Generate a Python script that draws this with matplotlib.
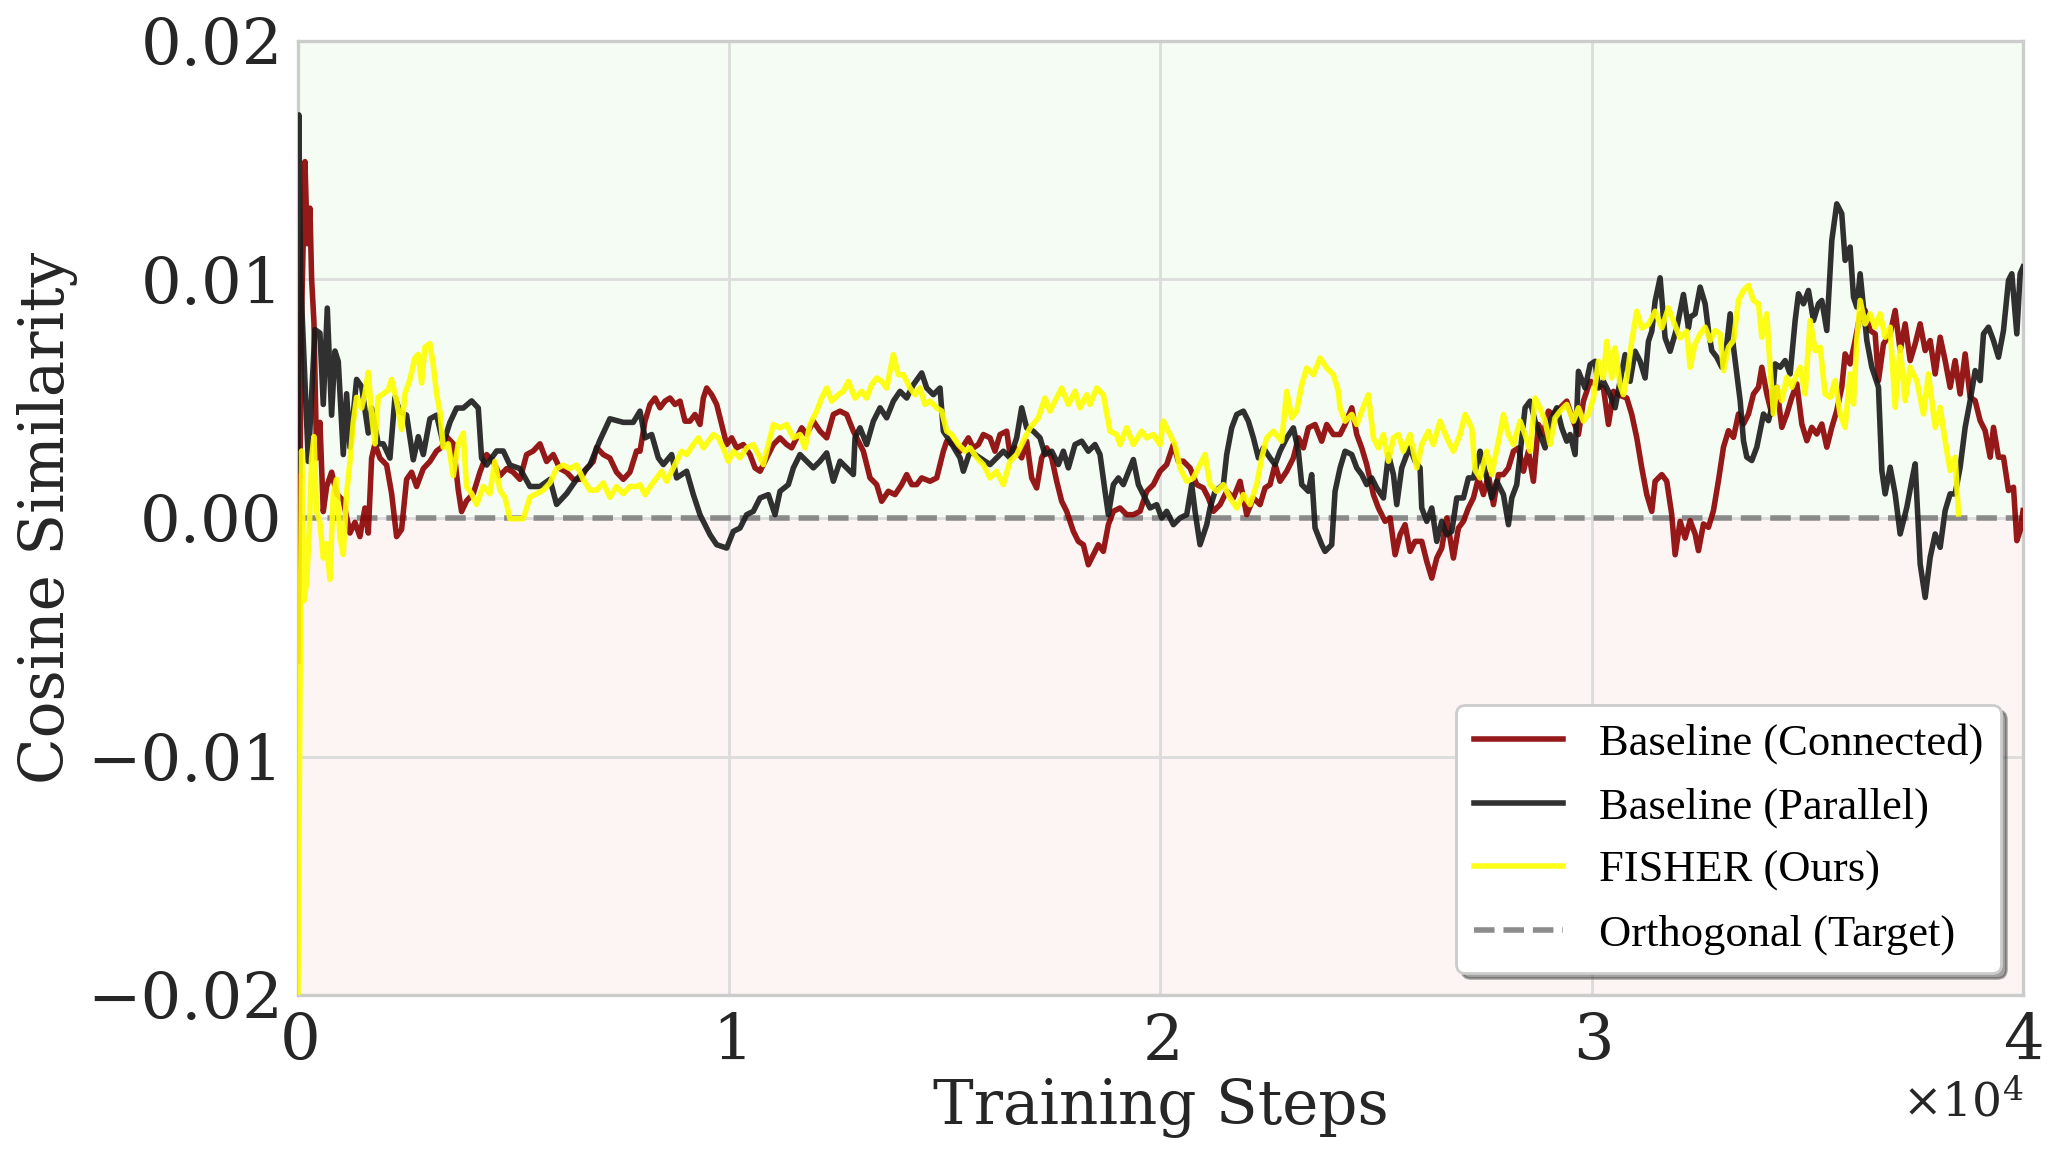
import matplotlib
matplotlib.use("Agg")
import matplotlib.pyplot as plt
import numpy as np
from matplotlib.ticker import FuncFormatter, MultipleLocator

plt.rcParams['font.family'] = ['DejaVu Serif']
plt.rcParams['mathtext.fontset'] = 'dejavuserif'

# values, cosine similarity in units of 1e-3
connected_steps = [
    0, 85, 162, 216, 278, 317, 371, 433, 510, 587, 665, 781, 896, 1051, 1206, 1321, 1437, 1553, 1631, 1708,
    1785, 1901, 2056, 2172, 2287, 2403, 2519, 2635, 2751, 2906, 3060, 3215, 3331, 3447, 3601, 3717, 3794, 3910, 4065, 4219,
    4374, 4529, 4683, 4838, 4992, 5147, 5301, 5456, 5611, 5765, 5920, 6074, 6229, 6383, 6538, 6692, 6847, 6924, 7079, 7233,
    7388, 7543, 7697, 7852,
    7931, 8047, 8163, 8279, 8395, 8511, 8627, 8743, 8859, 8975, 9091, 9206, 9322, 9400, 9477, 9593, 9709, 9825, 9941, 10057,
    10173, 10327, 10482, 10598, 10714, 10868, 11023, 11178, 11332, 11448, 11564, 11680, 11796, 11951, 12105, 12260, 12414, 12569, 12724, 12878,
    12994, 13110, 13265, 13419, 13535, 13690, 13844, 13999, 14115, 14231, 14347, 14463, 14656, 14811, 14965, 15043, 15197, 15352, 15545, 15661,
    15777, 15893,
    16047, 16163, 16279, 16434, 16511, 16627, 16781, 16897, 17013, 17129, 17245, 17361, 17477, 17593, 17709, 17825, 17980, 18095, 18211, 18327,
    18443, 18559, 18675, 18791, 18907, 19062, 19216, 19371, 19526, 19680, 19835, 19989, 20144, 20299, 20414, 20530, 20685, 20840, 20994, 21110,
    21226, 21381, 21535, 21690, 21845, 21999, 22154, 22308, 22424, 22540, 22656, 22772, 22927, 23081, 23197, 23313, 23429, 23584, 23738, 23854,
    24009,
    24164, 24280, 24435, 24551, 24666, 24782, 24937, 25053, 25208, 25324, 25440, 25555, 25671, 25787, 25903, 26058, 26174, 26290, 26406, 26522,
    26638, 26792, 26908, 27024, 27140, 27256, 27372, 27488, 27604, 27720, 27836, 27952, 28068, 28184, 28300, 28416, 28531, 28647, 28763, 28879,
    28995, 29111, 29266, 29420, 29575, 29691, 29807, 29962, 30116, 30271, 30387, 30503, 30619, 30812, 30928, 31044, 31160, 31276, 31392, 31469,
    31624, 31739, 31855, 31933, 32049, 32165,
    32281, 32397, 32474, 32590, 32706, 32822, 32938, 33054, 33170, 33286, 33402, 33518, 33634, 33750, 33866, 33943, 34059, 34175, 34291, 34407,
    34523, 34639, 34755, 34871, 34987, 35102, 35218, 35334, 35450, 35566, 35681, 35797, 35875, 35991, 36107, 36223, 36339, 36455, 36571, 36648,
    36764, 36919, 37035, 37151, 37267, 37383, 37499, 37615, 37731, 37847, 37963, 38079, 38194, 38310, 38426, 38542, 38658, 38774, 38890, 39006,
    39122, 39238, 39315, 39431, 39547, 39663, 39779, 39856, 39933, 40000,
]
connected_vals = [
    -6.0, 8.50, 14.94, 11.50, 12.99, 10.0, 8.20, 2.51, 4.01, 0.27, 1.32, 1.92, 1.02, 0.72, -0.63, -0.18, -0.78, 0.42, -0.63, 2.51,
    3.11, 2.51, 2.22, 1.02, -0.78, -0.48, 1.62, 1.92, 1.32, 2.07, 2.37, 2.81, 2.96, 3.41, 3.11, 1.17, 0.27, 0.72, 1.02, 1.92,
    2.66, 2.37, 1.77, 2.07, 1.92, 1.62, 2.66, 2.81, 3.11, 2.37, 2.66, 2.07, 1.92, 1.62, 1.62, 2.07, 2.37, 2.96, 2.66, 2.51,
    1.92, 1.62, 1.92, 2.81,
    2.80, 4.06, 4.76, 5.03, 4.62, 4.90, 5.03, 4.76, 4.90, 4.06, 4.06, 4.34, 3.92, 5.03, 5.45, 5.17, 4.76, 3.92, 3.08, 3.36,
    2.94, 3.08, 2.66, 2.10, 1.96, 2.52, 3.08, 3.36, 3.08, 2.94, 3.36, 3.78, 3.50, 4.06, 3.64, 3.36, 4.34, 4.48, 4.34, 3.64,
    3.22, 2.80, 1.68, 1.40, 0.70, 1.12, 0.98, 1.40, 1.82, 1.40, 1.40, 1.68, 1.54, 1.68, 2.80, 3.22, 3.08, 2.80, 3.36, 2.94,
    3.08, 3.50,
    3.36, 2.80, 3.50, 3.64, 2.66, 2.94, 2.52, 3.22, 1.68, 1.26, 2.52, 2.94, 2.52, 1.54, 0.70, 0.28, -0.56, -0.98, -1.12, -1.96,
    -1.54, -1.12, -1.40, -0.28, 0.28, 0.42, 0.14, 0.14, 0.28, 1.12, 1.40, 1.96, 2.24, 3.08, 2.38, 2.38, 2.10, 1.40, 1.26, 0.84,
    0.28, 0.56, 1.12, 0.84, 1.54, 0.14, 0.84, 0.56, 1.26, 1.40, 2.24, 1.54, 1.96, 2.52, 3.36, 2.94, 3.78, 3.92, 3.22, 3.92,
    3.50,
    3.50, 3.92, 4.62, 3.50, 2.94, 2.24, 0.98, 0.42, -0.14, 0.00, -1.54, -0.70, -0.28, -1.40, -0.98, -0.98, -1.82, -2.52, -1.68, -1.26,
    0.00, -1.68, -0.42, -0.14, 0.42, 0.84, 1.68, 0.98, 1.82, 0.56, 1.82, 1.82, 2.10, 2.80, 2.94, 1.96, 2.80, 1.54, 3.92, 3.50,
    4.48, 4.34, 4.62, 4.90, 4.06, 3.50, 4.90, 5.73, 5.59, 5.45, 3.92, 5.31, 5.17, 5.03, 4.34, 3.36, 2.10, 0.98, 0.28, 1.54,
    1.82, 1.54, 0.14, -1.54, -0.14, -0.84,
    -0.11, -0.67, -1.37, -0.25, -0.39, 0.31, 1.57, 2.97, 3.66, 3.38, 4.36, 3.94, 4.36, 5.20, 5.48, 6.32, 5.20, 4.36, 5.48, 3.80,
    4.36, 5.06, 5.62, 3.94, 3.24, 3.80, 3.52, 3.94, 2.97, 3.80, 4.50, 5.48, 6.88, 6.46, 7.44, 8.56, 8.70, 7.86, 7.72, 5.76,
    7.30, 7.72, 8.70, 7.02, 8.14, 6.60, 7.30, 8.14, 7.02, 7.44, 6.04, 7.58, 6.60, 5.48, 6.60, 5.20, 6.88, 5.06, 4.92, 4.08,
    3.66, 2.55, 3.80, 2.55, 2.55, 1.15, 1.29, -0.95, -0.53, 0.31,
]

parallel_steps = [
    0, 20, 60, 240, 394, 510, 587, 680, 780, 858, 935, 1051, 1128, 1206, 1360, 1476, 1631, 1708, 1862, 1978,
    2133, 2249, 2365, 2519, 2674, 2790, 2906, 3060, 3215, 3369, 3524, 3679, 3833, 4026, 4181, 4258, 4374, 4606, 4760, 4915,
    5147, 5379, 5611, 5842, 5997, 6229, 6461, 6770, 7002, 7233, 7543, 7774,
    7931, 8047, 8202, 8356, 8472, 8665, 8781, 9013, 9168, 9322, 9554, 9709, 9941, 10095, 10250, 10405, 10559, 10714, 10907, 11062,
    11178, 11371, 11487, 11641, 11796, 11951, 12105, 12260, 12414, 12569, 12724, 12878, 12917, 13033, 13187, 13342, 13497, 13651, 13806, 13960,
    14115, 14270, 14463, 14579, 14733, 14888, 14965, 15120, 15352, 15429, 15584, 15816,
    16047, 16202, 16356, 16511, 16665, 16781, 16897, 17052, 17207, 17322, 17477, 17632, 17748, 17864, 18018, 18173, 18327, 18482, 18598, 18714,
    18791, 18907, 19023, 19139, 19294, 19371, 19487, 19641, 19757, 19912, 20028, 20144, 20299, 20453, 20608, 20724, 20801, 20917, 21072, 21149,
    21265, 21458, 21535, 21651, 21767, 21922, 22038, 22154, 22270, 22386, 22540, 22656, 22772, 22927, 23081, 23197, 23275, 23429, 23506, 23584,
    23738, 23816, 23970, 24048,
    24164, 24280, 24435, 24551, 24666, 24782, 24898, 25014, 25169, 25285, 25401, 25478, 25594, 25710, 25787, 25903, 26019, 26058, 26174, 26290,
    26406, 26522, 26638, 26754, 26870, 27024, 27140, 27256, 27411, 27527, 27681, 27797, 27952, 28068, 28145, 28261, 28377, 28454, 28570, 28686,
    28802, 28918, 29034, 29189, 29305, 29420, 29498, 29614, 29691, 29846, 29962, 30077, 30155, 30271, 30425, 30541, 30657, 30773, 30889, 31005,
    31121, 31237, 31314, 31392, 31469, 31585, 31701, 31817, 31972, 32126, 32242,
    32281, 32397, 32513, 32629, 32706, 32783, 32899, 33015, 33131, 33209, 33286, 33363, 33441, 33518, 33595, 33711, 33827, 33904, 33982, 34098,
    34175, 34252, 34368, 34484, 34600, 34716, 34793, 34909, 35025, 35141, 35257, 35334, 35450, 35566, 35681, 35797, 35875, 35991, 36069, 36146,
    36223, 36301, 36378, 36494, 36571, 36648, 36726, 36803, 36919, 37035, 37151, 37306, 37421, 37499, 37615, 37731, 37847, 37963, 38079, 38194,
    38310, 38426, 38542, 38658, 38774, 38890, 39006, 39083, 39199, 39315, 39431, 39547, 39663, 39740, 39856, 39933, 40000,
]
parallel_vals = [
    2.0, 16.9, 10.1, 2.37, 7.90, 7.75, 4.76, 8.80, 4.31, 7.0, 6.56, 2.66, 5.21, 2.96, 5.81, 5.51, 3.56, 4.61, 3.11, 3.11,
    2.51, 5.06, 4.46, 4.31, 2.44, 3.41, 2.66, 4.16, 4.31, 3.11, 4.01, 4.61, 4.61, 4.91, 4.61, 2.51, 2.22, 2.81, 2.81, 2.22,
    2.07, 1.32, 1.32, 1.62, 0.57, 1.02, 1.62, 2.22, 3.26, 4.16, 4.01, 4.01,
    4.48, 3.36, 3.50, 2.52, 2.24, 2.66, 1.68, 1.96, 0.98, 0.14, -0.70, -1.12, -1.26, -0.56, -0.42, 0.14, 0.28, 0.84, 0.98, 0.14,
    1.12, 1.40, 2.10, 2.66, 2.38, 2.10, 2.38, 2.73, 1.54, 2.38, 2.10, 1.82, 3.36, 3.78, 3.08, 4.06, 4.62, 4.20, 4.90, 5.31,
    5.03, 5.59, 6.08, 5.45, 5.17, 5.45, 3.64, 3.22, 2.52, 1.96, 2.80, 2.52,
    2.24, 2.52, 2.80, 2.52, 3.36, 4.62, 3.78, 3.64, 3.36, 2.66, 2.80, 2.24, 2.80, 2.10, 3.08, 3.22, 2.80, 3.08, 2.66, 1.12,
    0.14, 1.40, 1.68, 1.40, 2.10, 2.45, 1.40, 0.84, 0.42, 0.56, 0.00, 0.28, -0.28, 0.00, 0.14, 1.40, 0.28, -1.12, -0.28, 0.42,
    1.12, 1.40, 2.66, 3.78, 4.34, 4.48, 4.06, 3.36, 2.52, 2.94, 2.52, 2.24, 2.80, 3.36, 3.78, 2.80, 1.40, 1.12, 1.82, -0.42,
    -1.12, -1.40, -1.12, 1.12,
    2.10, 2.80, 2.66, 2.10, 1.82, 1.40, 1.68, 1.26, 0.84, 2.66, 1.82, 0.56, 2.10, 2.66, 2.94, 2.38, 2.10, 0.42, -0.14, 0.42,
    -0.98, -0.14, -0.70, -0.56, 0.84, 0.84, 1.68, 1.68, 2.80, 1.96, 0.84, 1.54, 0.98, -0.28, 0.84, 1.40, 3.36, 4.62, 4.90, 4.06,
    3.50, 2.94, 4.06, 4.62, 3.78, 3.22, 3.50, 2.66, 6.15, 5.45, 6.43, 6.57, 5.45, 5.73, 5.17, 4.62, 5.73, 6.85, 5.73, 6.99,
    6.57, 5.87, 7.41, 7.83, 9.09, 10.07, 7.55, 6.99, 7.97, 9.37, 7.97,
    8.42, 8.56, 9.68, 8.98, 7.86, 7.02, 6.74, 6.32, 7.30, 8.56, 7.16, 6.04, 4.92, 3.24, 2.55, 2.41, 2.97, 3.66, 4.36, 4.08,
    4.64, 6.46, 6.32, 6.60, 6.04, 8.28, 9.40, 8.98, 9.54, 8.28, 8.98, 9.12, 7.86, 11.64, 13.17, 12.76, 10.80, 11.36, 9.26, 8.84,
    10.24, 8.84, 7.44, 6.32, 5.90, 5.48, 1.99, 1.01, 2.13, 1.01, -0.67, 0.45, 1.57, 2.27, -1.93, -3.33, -1.65, -0.67, -1.23, 0.31,
    1.01, 1.01, 2.13, 3.80, 4.92, 6.18, 5.76, 7.72, 8.00, 7.44, 6.74, 7.86, 9.96, 10.24, 7.72, 10.24, 10.52,
]

fisher_steps = [
    0, 85, 139, 201, 263, 317, 371, 433, 510, 587, 665, 742, 819, 896, 974, 1051, 1128, 1206, 1283, 1360,
    1476, 1553, 1631, 1708, 1785, 1862, 1978, 2094, 2172, 2287, 2403, 2481, 2597, 2713, 2790, 2867, 2944, 3060, 3138, 3215,
    3292, 3369, 3485, 3601, 3717, 3833, 3910, 4026, 4142, 4297, 4451, 4567, 4683, 4799, 4915, 5070, 5224, 5379, 5533, 5688,
    5842, 5997, 6151, 6306, 6461, 6615, 6770, 6924, 7079, 7233, 7388, 7543, 7697, 7852,
    7931, 8047, 8202, 8318, 8433, 8549, 8665, 8781, 8897, 9013, 9168, 9284, 9400, 9516, 9632, 9748, 9864, 9979, 10095, 10250,
    10405, 10559, 10675, 10791, 10907, 11023, 11178, 11332, 11487, 11641, 11757, 11873, 12028, 12144, 12260, 12376, 12530, 12646, 12762, 12917,
    13071, 13187, 13303, 13419, 13535, 13651, 13806, 13922, 14038, 14192, 14308, 14424, 14540, 14656, 14811, 14927, 15043, 15159, 15313, 15468,
    15584, 15739, 15893,
    16047, 16202, 16356, 16511, 16665, 16820, 16975, 17168, 17322, 17438, 17554, 17709, 17864, 18018, 18134, 18289, 18366, 18521, 18675, 18830,
    18985, 19062, 19216, 19371, 19564, 19680, 19835, 19989, 20067, 20221, 20337, 20453, 20608, 20762, 20878, 21033, 21149, 21303, 21458, 21613,
    21767, 21922, 22076, 22231, 22347, 22463, 22618, 22811, 22927, 23043, 23159, 23275, 23391, 23545, 23700, 23854, 24009, 24125,
    24164, 24280, 24435, 24551, 24666, 24821, 24937, 25053, 25169, 25285, 25401, 25517, 25633, 25787, 25942, 26058, 26212, 26328, 26483, 26638,
    26792, 26947, 27063, 27217, 27295, 27411, 27565, 27681, 27836, 27952, 28068, 28184, 28338, 28454, 28570, 28686, 28802, 28918, 29034, 29150,
    29266, 29420, 29575, 29691, 29807, 29923, 30039, 30155, 30271, 30348, 30464, 30541, 30657, 30735, 30812, 30928, 31044, 31160, 31314, 31469,
    31624, 31778, 31894, 32049, 32203,
    32281, 32397, 32513, 32629, 32745, 32861, 32977, 33054, 33170, 33286, 33402, 33518, 33634, 33750, 33866, 33943, 34059, 34136, 34214, 34291,
    34407, 34523, 34639, 34755, 34832, 34948, 35064, 35180, 35296, 35412, 35528, 35644, 35759, 35875, 35991, 36069, 36146, 36223, 36339, 36455,
    36571, 36687, 36803, 36919, 37035, 37151, 37267, 37383, 37537, 37692, 37808, 37963, 38079, 38194, 38310, 38426, 38504,
]
fisher_vals = [
    -20.0, 2.81, -3.47, -2.72, -0.48, 2.51, 3.41, 0.27, -0.18, -1.68, -1.08, -2.57, 1.02, 1.62, -0.78, -1.53, 1.02, 2.37, 4.01, 5.06,
    4.61, 5.21, 6.11, 4.31, 3.11, 5.06, 5.21, 5.36, 5.81, 4.91, 3.71, 5.21, 5.81, 6.71, 6.86, 5.66, 7.16, 7.31, 6.41, 5.21,
    4.46, 2.96, 3.11, 1.77, 3.11, 3.56, 1.32, 1.02, 0.57, 1.32, 1.02, 2.37, 1.17, 0.87, -0.03, -0.03, -0.03, 0.87, 1.02, 1.17,
    1.47, 2.07, 2.22, 2.07, 2.22, 1.62, 1.17, 1.17, 1.47, 0.87, 1.32, 1.02, 1.32, 1.32,
    1.40, 0.98, 1.40, 1.68, 1.96, 1.54, 1.96, 2.38, 2.80, 2.66, 3.08, 3.36, 2.94, 3.22, 3.50, 3.36, 2.94, 2.38, 2.80, 2.52,
    2.94, 3.08, 2.66, 2.24, 3.08, 3.92, 3.78, 3.92, 3.36, 3.50, 2.94, 3.92, 4.48, 5.03, 5.45, 4.90, 5.17, 5.31, 5.73, 5.03,
    5.31, 5.03, 5.59, 5.87, 5.73, 5.45, 6.85, 6.01, 6.01, 5.45, 5.17, 5.45, 4.76, 4.90, 4.62, 4.48, 3.64, 3.50, 3.08, 2.80,
    2.94, 2.52, 2.24,
    1.68, 1.96, 1.40, 2.38, 2.66, 3.22, 3.78, 4.20, 5.03, 4.48, 4.90, 5.45, 4.76, 5.31, 4.62, 5.17, 4.76, 5.45, 5.17, 3.64,
    3.50, 3.08, 3.78, 3.08, 3.64, 3.36, 3.50, 3.08, 4.06, 3.50, 3.08, 2.10, 1.54, 1.68, 2.10, 2.66, 1.40, 1.12, 1.40, 0.84,
    0.42, 0.98, 0.56, 1.40, 2.52, 3.36, 3.64, 3.22, 5.31, 4.20, 4.48, 5.59, 6.29, 6.01, 6.71, 6.29, 6.01, 5.31,
    4.62, 4.06, 4.34, 3.92, 4.48, 5.17, 3.36, 2.94, 3.50, 2.38, 3.36, 3.50, 2.80, 3.50, 2.10, 3.08, 3.64, 3.08, 4.06, 3.36,
    2.80, 3.50, 4.34, 3.78, 2.01, 1.68, 2.80, 1.82, 3.22, 4.34, 3.50, 3.08, 4.06, 3.50, 2.80, 5.03, 4.62, 4.06, 3.08, 4.20,
    4.48, 4.76, 4.06, 4.62, 4.06, 4.34, 5.03, 6.57, 5.87, 7.41, 5.87, 7.13, 5.59, 5.17, 5.87, 7.41, 8.67, 7.97, 8.11, 8.67,
    7.97, 8.81, 8.25, 7.55, 7.83,
    6.32, 7.30, 7.72, 8.00, 7.44, 7.86, 7.72, 6.18, 7.16, 7.44, 9.12, 9.54, 9.75, 9.12, 8.98, 7.58, 8.56, 6.32, 4.36, 5.48,
    4.92, 5.90, 5.48, 6.04, 6.32, 5.20, 8.28, 7.02, 7.16, 5.20, 5.06, 5.76, 4.36, 3.80, 6.04, 4.78, 7.44, 9.12, 8.14, 8.56,
    8.00, 8.56, 7.58, 8.00, 4.64, 7.16, 4.92, 6.32, 5.76, 4.36, 6.04, 3.80, 4.64, 3.24, 1.99, 2.55, 0.17,
]

labels = ['Baseline (Connected)', 'Baseline (Parallel)', 'FISHER (Ours)', 'Orthogonal (Target)']
colors = ['#8b0000', '#1a1a1a', '#ffff00']

fig = plt.figure(figsize=(10.31, 5.8), dpi=200)
ax = fig.add_axes([0.1445, 0.1422, 0.8366, 0.8225])

# shaded half planes
ax.axhspan(0, 0.02, color='#f5fcf4', zorder=0, lw=0)
ax.axhspan(-0.02, 0, color='#fdf4f4', zorder=0, lw=0)

series = [(connected_steps, connected_vals), (parallel_steps, parallel_vals), (fisher_steps, fisher_vals)]
for (xs, ys), c, lab in zip(series, colors, labels):
    ax.plot(xs, np.array(ys) * 1e-3, color=c, lw=2.0, alpha=0.9, label=lab, zorder=3)

ax.axhline(0, color='#808080', ls='--', lw=2, alpha=0.9, label=labels[3], zorder=2)

ax.set_xlim(0, 40000)
ax.set_ylim(-0.02, 0.02)
ax.xaxis.set_major_locator(MultipleLocator(10000))
ax.yaxis.set_major_locator(MultipleLocator(0.01))
ax.yaxis.set_major_formatter(FuncFormatter(lambda v, p: f'{v:.2f}'.replace('-', '\u2212') if abs(v) > 1e-9 else '0.00'))
ax.ticklabel_format(axis='x', style='sci', scilimits=(0, 0), useMathText=True)
ax.xaxis.get_offset_text().set_fontsize(17)
ax.xaxis.get_offset_text().set_color('#262626')

ax.grid(True, color='#dcdcdc', lw=1, zorder=1)
ax.set_axisbelow(True)
for s in ax.spines.values():
    s.set_color('#cccccc')
    s.set_linewidth(1.2)
ax.tick_params(axis='both', length=0, labelsize=23, colors='#262626')
ax.tick_params(axis='x', pad=6)
ax.tick_params(axis='y', pad=5.5)

ax.set_xlabel('Training Steps', fontsize=22, color='#262626', labelpad=2)
ax.set_ylabel('Cosine Similarity', fontsize=22, color='#262626', labelpad=3)

leg = ax.legend(loc='lower right', fancybox=True, shadow=True, framealpha=1, facecolor='white',
                edgecolor='#cccccc', prop={'family': 'Liberation Serif', 'size': 16}, labelspacing=0.52)

fig.savefig('out.png', dpi=200)
